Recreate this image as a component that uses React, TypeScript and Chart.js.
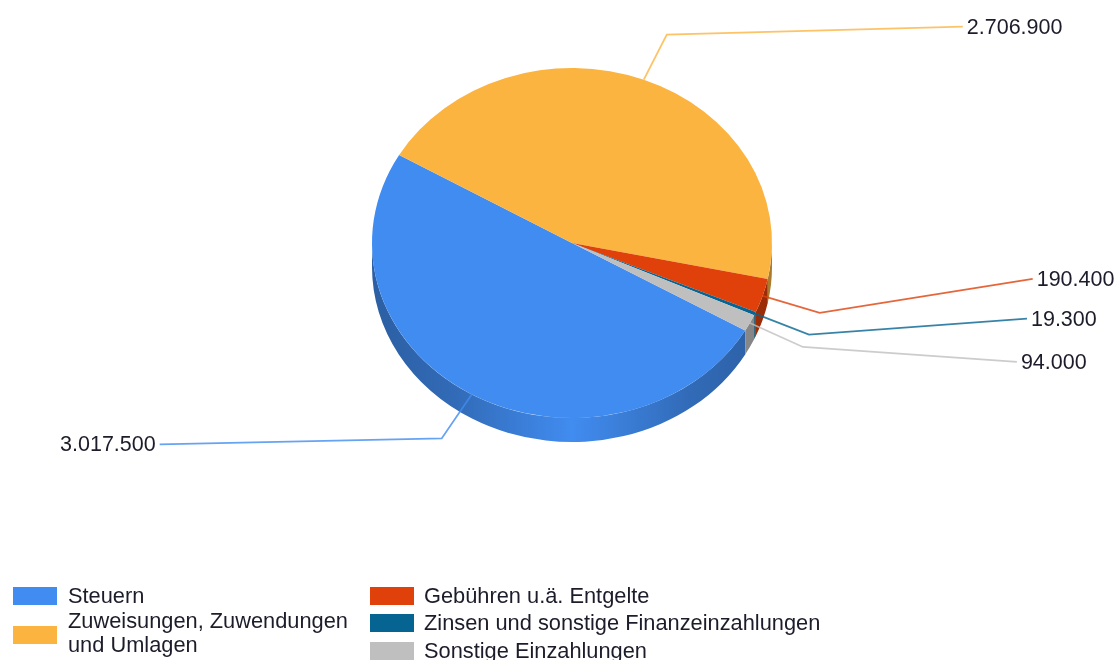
import React, { useEffect, useRef } from "react";
import { Chart, registerables } from "chart.js";

Chart.register(...registerables);

const categories = [
  "Steuern",
  "Zuweisungen, Zuwendungen und Umlagen",
  "Gebühren u.ä. Entgelte",
  "Zinsen und sonstige Finanzeinzahlungen",
  "Sonstige Einzahlungen",
];
const values = [3017500, 2706900, 190400, 19300, 94000];
const colors = ["#418CF0", "#FCB441", "#E0400A", "#056492", "#BFBFBF"];

// Leader-line layout, relative to the edge point of each slice.
const elbowOffsets = [[-30, 44], [23, -45], [57, 17], [54, 21], [53, 24]];
const endOffsets = [[-312, 50], [319, -53], [270, -17], [272, 5], [267, 39]];

const SQUASH = 0.875;
const DEPTH = 24;
const VALUE_FONT = '21.5px "Liberation Sans", Arial, sans-serif';
const LEGEND_FONT = '21.8px "Liberation Sans", Arial, sans-serif';
const TEXT = "#1c1c2a";

const fmt = (v: number) => String(v).replace(/\B(?=(\d{3})+(?!\d))/g, ".");

const shade = (hex: string, f: number) => {
  const n = parseInt(hex.slice(1), 16);
  const c = [(n >> 16) & 255, (n >> 8) & 255, n & 255].map((x) => Math.round(x * f));
  return `rgb(${c[0]},${c[1]},${c[2]})`;
};

const tiltPlugin = {
  id: "tilt",
  beforeDatasetsDraw(chart: any) {
    const ctx = chart.ctx;
    const arcs = chart.getDatasetMeta(0).data;
    const { x: cx, y: cy, outerRadius: r } = arcs[0];
    const ry = r * SQUASH;
    const TAU = Math.PI * 2;
    ctx.save();
    arcs.forEach((arc: any, i: number) => {
      // walk the front half of the rim (canvas angles 0..PI)
      for (const shift of [0, TAU, -TAU]) {
        const a = Math.max(arc.startAngle + shift, 0);
        const b = Math.min(arc.endAngle + shift, Math.PI);
        if (b <= a) continue;
        const g = ctx.createLinearGradient(cx - r, 0, cx + r, 0);
        g.addColorStop(0, shade(colors[i], 0.68));
        g.addColorStop(0.2, shade(colors[i], 0.76));
        g.addColorStop(0.5, shade(colors[i], 1));
        g.addColorStop(0.8, shade(colors[i], 0.76));
        g.addColorStop(1, shade(colors[i], 0.68));
        ctx.beginPath();
        ctx.ellipse(cx, cy + DEPTH, r, ry, 0, a, b);
        ctx.ellipse(cx, cy, r, ry, 0, b, a, true);
        ctx.closePath();
        ctx.fillStyle = g;
        ctx.fill();
      }
    });
    ctx.restore();
    ctx.save();
    ctx.translate(cx, cy);
    ctx.scale(1, SQUASH);
    ctx.translate(-cx, -cy);
  },
  afterDatasetsDraw(chart: any) {
    const ctx = chart.ctx;
    ctx.restore();
    const arcs = chart.getDatasetMeta(0).data;

    ctx.font = VALUE_FONT;
    ctx.textBaseline = "middle";
    arcs.forEach((arc: any, i: number) => {
      const mid = (arc.startAngle + arc.endAngle) / 2;
      const px = arc.x + Math.cos(mid) * arc.outerRadius;
      const py = arc.y + Math.sin(mid) * arc.outerRadius * SQUASH;
      const ex = px + elbowOffsets[i][0];
      const ey = py + elbowOffsets[i][1];
      const tx = px + endOffsets[i][0];
      const ty = py + endOffsets[i][1];
      ctx.beginPath();
      ctx.moveTo(px, py);
      ctx.lineTo(ex, ey);
      ctx.lineTo(tx, ty);
      ctx.strokeStyle = colors[i];
      ctx.globalAlpha = 0.8;
      ctx.lineWidth = 1.8;
      ctx.stroke();
      ctx.globalAlpha = 1;
      const left = endOffsets[i][0] > 0;
      ctx.textAlign = left ? "left" : "right";
      ctx.fillStyle = TEXT;
      ctx.fillText(fmt(values[i]), tx + (left ? 4 : -4), ty + 1);
    });

    // legend, two columns
    ctx.font = LEGEND_FONT;
    const slots = [[13, 596], [13, 635], [370, 596], [370, 623], [370, 651]];
    ctx.textAlign = "left";
    categories.forEach((name, i) => {
      const [x, y] = slots[i];
      ctx.fillStyle = colors[i];
      ctx.fillRect(x, y - 9, 44, 18);
      ctx.fillStyle = TEXT;
      const tx = x + (i < 2 ? 55 : 54);
      if (i === 1) {
        const words = name.split(" ");
        ctx.fillText(words.slice(0, 2).join(" "), tx, y - 13);
        ctx.fillText(words.slice(2).join(" "), tx, y + 11);
        return;
      }
      ctx.fillText(name, tx, y + 1);
    });
  },
};

export default function App() {
  const ref = useRef<HTMLCanvasElement>(null);
  useEffect(() => {
    const chart = new Chart(ref.current!, {
      type: "pie",
      data: {
        labels: categories,
        datasets: [{ data: values, backgroundColor: colors, borderWidth: 0, clip: false } as any],
      },
      options: {
        animation: false,
        responsive: false,
        rotation: 120,
        layout: { padding: { left: 372, right: 344, top: 43, bottom: 217 } },
        plugins: { legend: { display: false }, tooltip: { enabled: false }, title: { display: false } },
      },
      plugins: [tiltPlugin],
    });
    return () => chart.destroy();
  }, []);
  return (
    <canvas
      ref={ref}
      width={1116}
      height={660}
      style={{ position: "absolute", left: 0, top: 0, width: 1116, height: 660, filter: "blur(0.6px)" }}
    />
  );
}
